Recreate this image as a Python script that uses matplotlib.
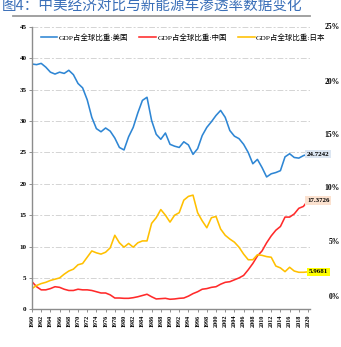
import matplotlib
matplotlib.use('Agg')
import matplotlib.pyplot as plt
from matplotlib.lines import Line2D
import numpy as np

years = list(range(1960, 2021))
us_share = [39.1, 39.0, 39.2, 38.6, 37.8, 37.5, 37.8, 37.6, 38.1, 37.4,
            36.0, 35.3, 33.4, 30.6, 28.8, 28.3, 28.9, 28.4, 27.3, 25.8,
            25.4, 27.5, 29.0, 31.3, 33.3, 33.8, 30.1, 27.9, 27.1, 28.1,
            26.3, 26.0, 25.8, 26.7, 26.2, 24.7, 25.6, 27.7, 29.0, 29.9,
            30.9, 31.7, 30.6, 28.5, 27.6, 27.2, 26.3, 25.0, 23.2, 23.9,
            22.6, 21.1, 21.6, 21.8, 22.1, 24.3, 24.8, 24.2, 24.1, 24.5,
            24.7242]
cn_share = [4.4, 3.6, 3.1, 3.1, 3.3, 3.6, 3.5, 3.2, 3.0, 3.0,
            3.2, 3.1, 3.1, 3.0, 2.8, 2.6, 2.6, 2.3, 1.8, 1.8,
            1.75, 1.75, 1.85, 2.0, 2.2, 2.4, 2.0, 1.65, 1.7, 1.75,
            1.6, 1.65, 1.75, 1.8, 2.1, 2.5, 2.8, 3.2, 3.3, 3.5,
            3.6, 4.0, 4.3, 4.4, 4.7, 5.0, 5.4, 6.3, 7.3, 8.5,
            9.3, 10.6, 11.7, 12.6, 13.2, 14.7, 14.7, 15.2, 16.1, 16.4,
            17.3726]
jp_share = [3.3, 3.8, 4.1, 4.3, 4.6, 4.8, 5.0, 5.6, 6.1, 6.4,
            7.1, 7.3, 8.3, 9.3, 9.0, 8.8, 9.1, 9.8, 11.8, 10.6,
            9.9, 10.5, 9.9, 10.6, 10.9, 10.9, 13.7, 14.6, 15.9, 15.0,
            13.9, 15.0, 15.4, 17.4, 18.0, 18.2, 15.4, 14.1, 13.0, 14.6,
            14.8, 12.8, 11.8, 11.2, 10.7, 9.9, 8.8, 7.9, 7.9, 8.7,
            8.6, 8.4, 8.3, 6.9, 6.6, 6.0, 6.7, 6.1, 5.9, 5.9,
            5.9681]
series_names = ['GDP占全球比重:美国', 'GDP占全球比重:中国', 'GDP占全球比重:日本']
y_ticks = [0, 5, 10, 15, 20, 25, 30, 35, 40, 45]
right_labels = ['25%', '20%', '15%', '10%', '5%', '0%']
title = '图4：中美经济对比与新能源车渗透率数据变化'

serif = ['Liberation Serif', 'Noto Sans CJK SC']
W, H = 341, 347
fig = plt.figure(figsize=(W / 100, H / 100), dpi=100)
ax = fig.add_axes([32 / W, 1 - 309.3 / H, 278 / W, (309.3 - 27) / H])

ax.plot(years, us_share, color='#2e86d4', lw=1.15, label=series_names[0])
ax.plot(years, cn_share, color='#ff2a2a', lw=1.15, label=series_names[1])
ax.plot(years, jp_share, color='#ffc000', lw=1.15, label=series_names[2])

ax.set_xlim(1960, 2020.43)
ax.set_ylim(0, 45)
ax.set_yticks(y_ticks)
ax.set_xticks(years[::2])
ax.set_xticklabels([str(y) for y in years[::2]], rotation=90,
                   fontsize=4.4, family=serif, fontweight='bold')
for lab in ax.get_yticklabels():
    lab.set_fontsize(5)
    lab.set_family(serif)
    lab.set_fontweight('bold')
ax.tick_params(axis='both', length=2, width=0.6, color='#808080', pad=2)
for g in y_ticks[1:]:
    ax.axhline(g, color='#d4d4d4', lw=0.7, dashes=(6, 2, 2, 2), zorder=0)
for s in ['top', 'right']:
    ax.spines[s].set_visible(False)
for s in ['left', 'bottom']:
    ax.spines[s].set_color('#8c8c8c')
    ax.spines[s].set_linewidth(1.0)

# end-value labels
boxes = [(us_share, '#dce6f2'), (cn_share, '#fbe1cf'), (jp_share, '#ffff00')]
for vals, fc in boxes:
    ax.annotate('%.4f' % vals[-1], (years[-1], vals[-1]), xytext=(7.5, 0),
                textcoords='offset points', ha='center', va='center',
                fontsize=5, family=serif, fontweight='bold',
                bbox=dict(boxstyle='square,pad=0.25', fc=fc, ec='none'))

leg = fig.legend(loc='center', bbox_to_anchor=(183 / W, 1 - 37 / H), ncol=3,
                 frameon=False, handlelength=2.2, handletextpad=0.2,
                 columnspacing=1.5, prop={'family': serif, 'size': 5.4})

# title and rule
fig.text(2 / W, 1 - 7 / H, title, fontsize=10.5, color='#3a6fb8',
         family=['Noto Sans CJK SC', 'DejaVu Sans'], va='center', ha='left')
fig.add_artist(Line2D([13 / W, 310 / W], [1 - 15.5 / H, 1 - 15.5 / H],
                      color='#9a9a9a', lw=1.3))

# right-hand axis labels, kept just inside the figure edge
right_y = [27, 82, 135, 188, 242, 297]
for lab, yy in zip(right_labels, right_y):
    fig.text(340 / W, 1 - yy / H, lab, fontsize=5.5, family=serif,
             fontweight='bold', va='center', ha='right')

plt.savefig('out.png', dpi=100)
plt.close()
